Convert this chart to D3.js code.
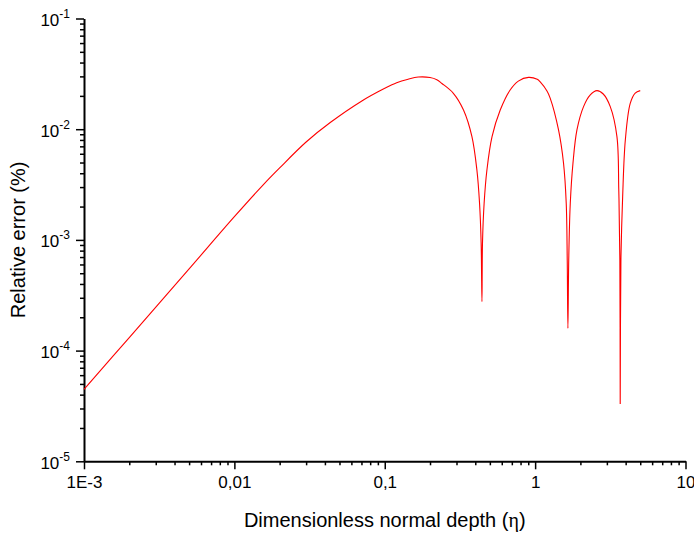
<!DOCTYPE html>
<html>
<head>
<meta charset="utf-8">
<script src="https://cdnjs.cloudflare.com/ajax/libs/d3/7.8.5/d3.min.js"></script>
<style>
  body { margin: 0; background: #fff; }
  svg { display: block; font-family: Arial, "Liberation Sans", sans-serif; }
  .axis path, .axis line { stroke: #000; }
</style>
</head>
<body>
<div class="graph-container"></div>
<script>
// depth values (eta)
var etaValues = [0.001, 0.002, 0.005, 0.01, 0.0156, 0.02, 0.03, 0.0434, 0.07,
  0.1, 0.12, 0.143, 0.167, 0.2, 0.222, 0.24, 0.286, 0.334, 0.38, 0.41, 0.427, 0.4375, 0.443,
  0.4467, 0.458, 0.478, 0.517, 0.586, 0.682, 0.773, 0.904, 1.033, 1.081, 1.199, 1.259,
  1.431, 1.545, 1.61, 1.635, 1.652, 1.673, 1.713, 1.785, 1.897, 2.099, 2.327, 2.577,
  2.838, 3.16, 3.5, 3.6, 3.66, 3.68, 3.72, 3.82, 3.98, 4.29, 4.63, 5.0];

// relative error (%) at each depth
var errorValues = [4.47e-5, 1.31e-4, 5.47e-4, 1.62e-3, 3.16e-3, 4.47e-3, 7.66e-3, 0.01148, 0.0179,
  0.0234, 0.0263, 0.0283, 0.0296, 0.0293, 0.0280, 0.0259, 0.0211, 0.0149, 8.56e-3, 4.28e-3, 2.14e-3, 9.37e-4, 2.77e-4,
  9.37e-4, 2.14e-3, 4.28e-3, 8.56e-3, 0.0149, 0.0226, 0.0272, 0.0294, 0.0282, 0.0267, 0.0221, 0.0191,
  9.84e-3, 4.92e-3, 2.14e-3, 6.58e-4, 1.59e-4, 6.58e-4, 2.14e-3, 4.92e-3, 9.84e-3, 0.0160, 0.0204, 0.0223,
  0.0208, 0.0160, 8.56e-3, 2.82e-3, 6.58e-4, 3.30e-5, 6.58e-4, 2.46e-3, 7.99e-3, 0.0171, 0.0212, 0.0223];

// tick labels
var xTicks = [0.001, 0.01, 0.1, 1, 10];
var xTickLabels = ['1E-3', '0,01', '0,1', '1', '10'];
var yTicks = [1e-5, 1e-4, 1e-3, 1e-2, 1e-1];
var yTickExponents = ['-5', '-4', '-3', '-2', '-1'];

var svgWidth = 694;
var svgHeight = 533;
var plotLeft = 84;
var plotRight = 685.5;
var plotTop = 18.5;
var plotBottom = 461.3;

var dataset = etaValues.map(function(d, i) { return [d, errorValues[i]]; });

function minorTicks(lo, hi) {
  var out = [];
  for (var p = lo; p < hi; p++) {
    for (var k = 2; k <= 9; k++) out.push(k * Math.pow(10, p));
  }
  return out;
}

var svg = d3.select('.graph-container').append('svg')
  .attr('width', svgWidth)
  .attr('height', svgHeight);

var xScale = d3.scaleLog()
  .domain([1e-3, 10])
  .range([plotLeft, plotRight]);

var yScale = d3.scaleLog()
  .domain([1e-5, 1e-1])
  .range([plotBottom, plotTop]);

// minor ticks first
svg.append('g')
  .attr('class', 'axis')
  .attr('transform', 'translate(0,' + plotBottom + ')')
  .call(d3.axisBottom(xScale).tickValues(minorTicks(-3, 1)).tickSize(4).tickFormat(''))
  .call(function(g) { g.select('.domain').remove(); })
  .selectAll('line').attr('stroke-width', 1.5);

svg.append('g')
  .attr('class', 'axis')
  .attr('transform', 'translate(' + plotLeft + ',0)')
  .call(d3.axisLeft(yScale).tickValues(minorTicks(-5, -1)).tickSize(4).tickFormat(''))
  .call(function(g) { g.select('.domain').remove(); })
  .selectAll('line').attr('stroke-width', 1.5);

// major x axis
var xAxis = d3.axisBottom(xScale)
  .tickValues(xTicks)
  .tickSize(8)
  .tickSizeOuter(0)
  .tickPadding(7)
  .tickFormat(function(d, i) { return xTickLabels[i]; });

var gx = svg.append('g')
  .attr('class', 'axis')
  .attr('transform', 'translate(0,' + plotBottom + ')')
  .call(xAxis);
gx.select('.domain').attr('stroke-width', 2);
gx.selectAll('line').attr('stroke-width', 1.5);
gx.selectAll('text')
  .style('font-size', '17px')
  .attr('fill', '#000');

// major y axis with superscript labels
var yAxis = d3.axisLeft(yScale)
  .tickValues(yTicks)
  .tickSize(8)
  .tickSizeOuter(0)
  .tickFormat('');

var gy = svg.append('g')
  .attr('class', 'axis')
  .attr('transform', 'translate(' + plotLeft + ',0)')
  .call(yAxis);
gy.select('.domain').attr('stroke-width', 2);
gy.selectAll('line').attr('stroke-width', 1.5);

gy.selectAll('.tick').each(function(d, i) {
  var t = d3.select(this).append('text')
    .attr('x', -14)
    .attr('y', 7)
    .attr('fill', '#000')
    .style('text-anchor', 'end')
    .style('font-size', '17px');
  t.append('tspan').text('10');
  t.append('tspan')
    .attr('dy', -8)
    .style('font-size', '12px')
    .text(yTickExponents[i]);
});

// the curve
var line = d3.line()
  .x(function(d) { return xScale(d[0]); })
  .y(function(d) { return yScale(d[1]); })
  .curve(d3.curveCatmullRom.alpha(0.5));

svg.append('path')
  .datum(dataset)
  .attr('d', line)
  .attr('fill', 'none')
  .attr('stroke', '#ff0000')
  .attr('stroke-width', 1.1);

// x-axis label
var xl = svg.append('text')
  .attr('x', (plotLeft + plotRight) / 2)
  .attr('y', 527)
  .style('text-anchor', 'middle')
  .style('font-size', '20px')
  .attr('fill', '#000');
xl.append('tspan').text('Dimensionless normal depth (');
xl.append('tspan').style('font-family', '"Liberation Serif", "DejaVu Serif", serif').text('η');
xl.append('tspan').text(')');

// y-axis label
svg.append('text')
  .attr('x', 0 - (plotTop + plotBottom) / 2)
  .attr('y', 25)
  .attr('transform', 'rotate(-90)')
  .style('text-anchor', 'middle')
  .style('font-size', '20px')
  .attr('fill', '#000')
  .text('Relative error (%)');
</script>
</body>
</html>
